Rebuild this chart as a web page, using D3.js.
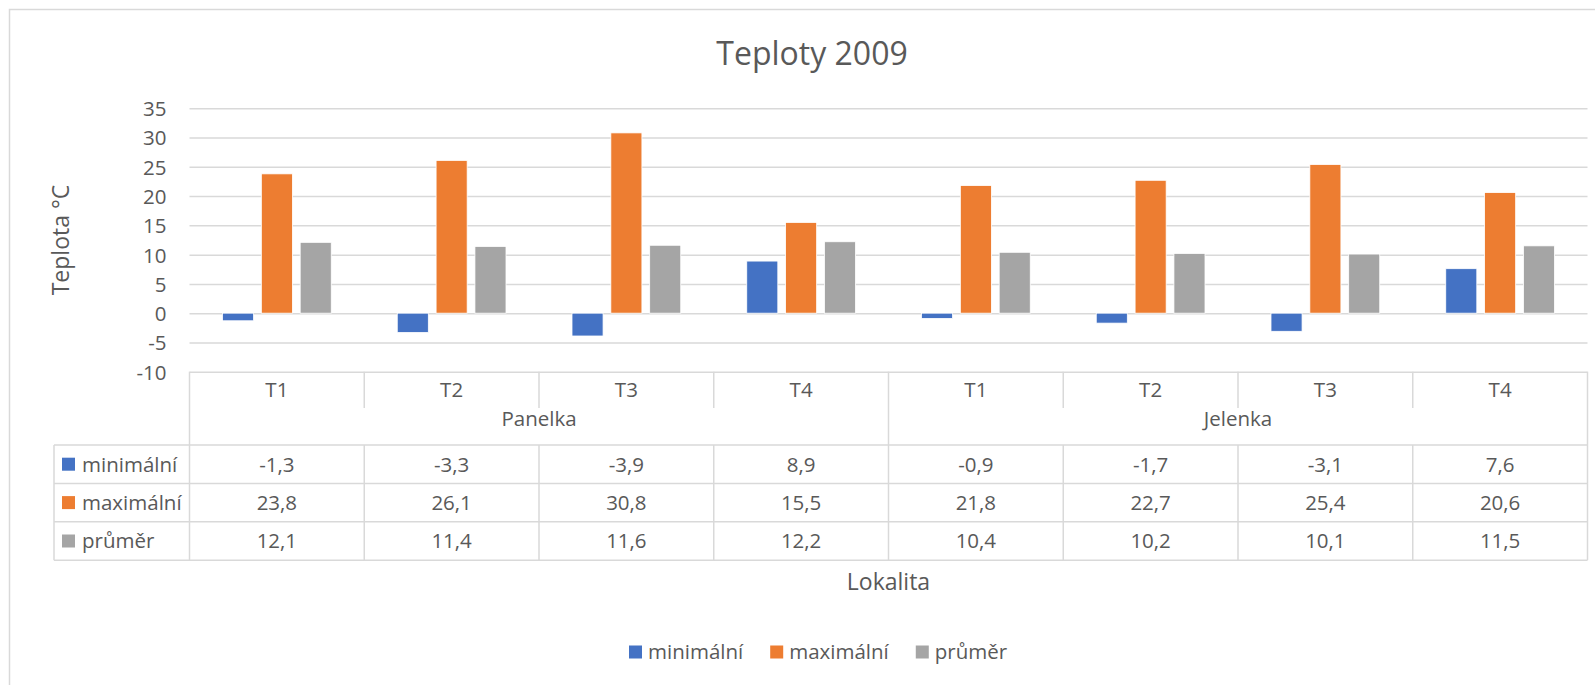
<!DOCTYPE html>
<html>
<head>
<meta charset="utf-8">
<script src="https://cdn.jsdelivr.net/npm/d3@7"></script>
<style>
  body { margin: 0; background: #fff; }
  svg { display: block; font-family: 'Open Sans', sans-serif; }
  text { fill: #595959; }
</style>
</head>
<body>
<div id="chart"></div>
<script>
const categories = ['T1', 'T2', 'T3', 'T4', 'T1', 'T2', 'T3', 'T4']
const groups = ['Panelka', 'Jelenka']
const seriesNames = ['minimální', 'maximální', 'průměr']
const minimalni = [-1.3, -3.3, -3.9, 8.9, -0.9, -1.7, -3.1, 7.6]
const maximalni = [23.8, 26.1, 30.8, 15.5, 21.8, 22.7, 25.4, 20.6]
const prumer = [12.1, 11.4, 11.6, 12.2, 10.4, 10.2, 10.1, 11.5]
const yTicks = [-10, -5, 0, 5, 10, 15, 20, 25, 30, 35]

const colors = ['#4472C4', '#ED7D31', '#A5A5A5']
const series = [minimalni, maximalni, prumer]

const width = 1595
const height = 685
const grid = '#D9D9D9'
const fs = 20.5

const svg = d3.select('#chart')
  .append('svg')
  .attr('width', width)
  .attr('height', height)

// outer chart border (extends past the window on the right/bottom)
svg.append('rect')
  .attr('x', 9.5).attr('y', 9.5)
  .attr('width', 1700).attr('height', 1000)
  .attr('fill', 'none')
  .attr('stroke', grid)
  .attr('stroke-width', 1.5)

const plot = { left: 189.5, right: 1587.5, top: 108.3, bottom: 371.7 }

const y = d3.scaleLinear()
  .domain([-10, 35])
  .range([plot.bottom, plot.top])

const x0 = d3.scaleBand()
  .domain(d3.range(categories.length))
  .range([plot.left, plot.right])

const x1 = d3.scaleBand()
  .domain(d3.range(series.length))
  .range([33, x0.bandwidth() - 33])
  .paddingInner(0.2)

// title
svg.append('text')
  .attr('x', 812)
  .attr('y', 65)
  .attr('text-anchor', 'middle')
  .attr('font-size', 32)
  .text('Teploty 2009')

// gridlines + tick labels
const yAxis = svg.append('g')
  .attr('transform', `translate(${plot.left},0)`)
  .call(d3.axisLeft(y)
    .tickValues(yTicks)
    .tickFormat(d => String(d))
    .tickSize(-(plot.right - plot.left))
    .tickPadding(23))
yAxis.select('.domain').remove()
yAxis.selectAll('.tick line')
  .attr('stroke', grid)
  .attr('stroke-width', 1.5)
yAxis.selectAll('.tick text')
  .attr('font-size', fs)
  .attr('font-family', "'Open Sans', sans-serif")
  .attr('fill', '#595959')
  .attr('dy', '0.36em')

svg.append('text')
  .attr('transform', `translate(69,240) rotate(-90)`)
  .attr('text-anchor', 'middle')
  .attr('font-size', 23)
  .text('Teplota °C')

// bars
series.forEach((vals, s) => {
  svg.append('g')
    .selectAll('rect')
    .data(vals)
    .join('rect')
    .attr('x', (d, i) => x0(i) + x1(s))
    .attr('width', x1.bandwidth())
    .attr('y', d => y(Math.max(0, d)))
    .attr('height', d => Math.abs(y(d) - y(0)))
    .attr('fill', colors[s])
    .attr('stroke', '#fff')
    .attr('stroke-width', 0.8)
})

// data table under the chart
const rowCat = { top: plot.bottom, bottom: 445 }
const rowH = 38.4
const tableLeft = 54
const tbl = svg.append('g')
const line = (x1p, y1p, x2p, y2p) => tbl.append('line')
  .attr('x1', x1p).attr('y1', y1p).attr('x2', x2p).attr('y2', y2p)
  .attr('stroke', grid).attr('stroke-width', 1.5)

const tableBottom = rowCat.bottom + rowH * series.length
line(plot.left, rowCat.top, plot.left, tableBottom)
line(plot.right, rowCat.top, plot.right, tableBottom)
line(tableLeft, rowCat.bottom, tableLeft, tableBottom)
for (let r = 0; r <= series.length; r++) {
  line(tableLeft, rowCat.bottom + r * rowH, plot.right, rowCat.bottom + r * rowH)
}
d3.range(1, categories.length).forEach(i => {
  const xx = x0(i)
  const groupEdge = i % 4 === 0
  line(xx, rowCat.top, xx, groupEdge ? rowCat.bottom : 408)
  line(xx, rowCat.bottom, xx, tableBottom)
})

categories.forEach((c, i) => {
  tbl.append('text')
    .attr('x', x0(i) + x0.bandwidth() / 2)
    .attr('y', 390)
    .attr('dy', '0.36em')
    .attr('text-anchor', 'middle')
    .attr('font-size', fs)
    .text(c)
})
groups.forEach((g, gi) => {
  tbl.append('text')
    .attr('x', x0(gi * 4) + x0.bandwidth() * 2)
    .attr('y', 419)
    .attr('dy', '0.36em')
    .attr('text-anchor', 'middle')
    .attr('font-size', fs)
    .text(g)
})

const fmt = v => v.toFixed(1).replace('.', ',')
series.forEach((vals, s) => {
  const cy = rowCat.bottom + rowH * s + rowH / 2
  tbl.append('rect')
    .attr('x', 62).attr('y', cy - 6.5)
    .attr('width', 13).attr('height', 13)
    .attr('fill', colors[s])
  tbl.append('text')
    .attr('x', 82).attr('y', cy)
    .attr('dy', '0.36em')
    .attr('font-size', fs)
    .text(seriesNames[s])
  vals.forEach((v, i) => {
    tbl.append('text')
      .attr('x', x0(i) + x0.bandwidth() / 2)
      .attr('y', cy)
      .attr('dy', '0.36em')
      .attr('text-anchor', 'middle')
      .attr('font-size', fs)
      .text(fmt(v))
  })
})

// x axis title
svg.append('text')
  .attr('x', (plot.left + plot.right) / 2)
  .attr('y', 582)
  .attr('dy', '0.36em')
  .attr('text-anchor', 'middle')
  .attr('font-size', 23)
  .text('Lokalita')

// legend
const legend = svg.append('g').attr('transform', 'translate(629,652)')
let lx = 0
seriesNames.forEach((n, s) => {
  legend.append('rect')
    .attr('x', lx).attr('y', -6.5)
    .attr('width', 13).attr('height', 13)
    .attr('fill', colors[s])
  const t = legend.append('text')
    .attr('x', lx + 19).attr('y', 0)
    .attr('dy', '0.36em')
    .attr('font-size', fs)
    .text(n)
  lx += 19 + t.node().getComputedTextLength() + 27
})
</script>
</body>
</html>
